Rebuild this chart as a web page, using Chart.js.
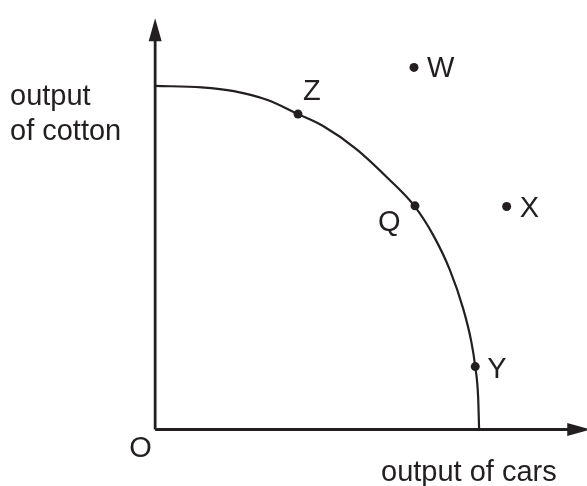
<!DOCTYPE html>
<html>
<head>
<meta charset="utf-8">
<script src="https://cdn.jsdelivr.net/npm/chart.js@4.4.1/dist/chart.umd.min.js"></script>
<style>
html,body{margin:0;padding:0;background:#fff;}
#wrap{width:587px;height:486px;position:relative;}
</style>
</head>
<body>
<div id="wrap"><canvas id="c"></canvas></div>
<script>
// Production possibility curve (output of cars, output of cotton)
const curveX = [0, 1.43, 2.43, 3.47, 4.41, 5.17, 6.2, 7.2, 8.0, 8.57, 9.09, 9.51, 9.76, 9.88, 9.97, 10];
const curveY = [10, 9.96, 9.85, 9.59, 9.18, 8.84, 8.17, 7.3, 6.51, 5.68, 4.66, 3.51, 2.55, 1.83, 0.94, 0];
const pointNames = ['Z', 'Q', 'Y', 'W', 'X'];
const pointX = [4.41, 8.02, 9.88, 7.99, 10.85];
const pointY = [9.18, 6.51, 1.83, 10.54, 6.49];
const axisEndX = 13.43;
const axisEndY = 11.97;
const yAxisLabel = ['output', 'of cotton'];
const xAxisLabel = 'output of cars';
const originLabel = 'O';

const INK = '#231f20';
const FONT = '29px "Liberation Sans", Arial, sans-serif';
const labelOffsets = {Z:[5,-14], Q:[-37,25], Y:[12,11], W:[13,10], X:[13,10]};

const overlay = {
  id: 'overlay',
  afterDatasetsDraw(chart) {
    const ctx = chart.ctx, xs = chart.scales.x, ys = chart.scales.y;
    ctx.save();
    ctx.fillStyle = INK;
    // arrowheads
    const ox = xs.getPixelForValue(0), oy = ys.getPixelForValue(0);
    const ty = ys.getPixelForValue(axisEndY);
    ctx.beginPath();
    ctx.moveTo(ox, ty); ctx.lineTo(ox - 6.5, ty + 23); ctx.lineTo(ox + 6.5, ty + 23); ctx.closePath(); ctx.fill();
    const tx = xs.getPixelForValue(axisEndX);
    ctx.beginPath();
    ctx.moveTo(tx, oy); ctx.lineTo(tx - 23, oy - 6.5); ctx.lineTo(tx - 23, oy + 6.5); ctx.closePath(); ctx.fill();
    // texts
    ctx.font = FONT;
    ctx.textBaseline = 'alphabetic';
    ctx.textAlign = 'left';
    pointNames.forEach((n, i) => {
      const px = xs.getPixelForValue(pointX[i]), py = ys.getPixelForValue(pointY[i]);
      const o = labelOffsets[n];
      ctx.fillText(n, px + o[0], py + o[1]);
    });
    ctx.fillText(yAxisLabel[0], 10, 105);
    ctx.fillText(yAxisLabel[1], 10, 140);
    ctx.fillText(xAxisLabel, 381, 481);
    ctx.fillText(originLabel, ox - 26, oy + 28);
    ctx.restore();
  }
};

new Chart(document.getElementById('c'), {
  type: 'scatter',
  data: {
    datasets: [
      {
        data: curveX.map((x, i) => ({x, y: curveY[i]})),
        showLine: true, borderColor: INK, borderWidth: 2.2, pointRadius: 0,
        cubicInterpolationMode: 'monotone', clip: false, order: 2
      },
      {
        data: [{x: 0, y: 0}, {x: axisEndX - 0.5, y: 0}],
        showLine: true, borderColor: INK, borderWidth: 2.8, pointRadius: 0, clip: false, order: 3
      },
      {
        data: [{x: 0, y: 0}, {x: 0, y: axisEndY - 0.5}],
        showLine: true, borderColor: INK, borderWidth: 2.8, pointRadius: 0, clip: false, order: 3
      },
      {
        data: pointX.map((x, i) => ({x, y: pointY[i]})),
        showLine: false, pointRadius: 4.5, pointBackgroundColor: INK, pointBorderWidth: 0,
        clip: false, order: 1
      }
    ]
  },
  options: {
    responsive: true, maintainAspectRatio: false, animation: false,
    layout: {padding: 0},
    plugins: {legend: {display: false}, tooltip: {enabled: false}},
    events: [],
    scales: {
      x: {type: 'linear', display: false, min: -4.650, max: 13.191},
      y: {type: 'linear', display: false, min: -1.514, max: 12.371}
    }
  },
  plugins: [overlay]
});
</script>
</body>
</html>
